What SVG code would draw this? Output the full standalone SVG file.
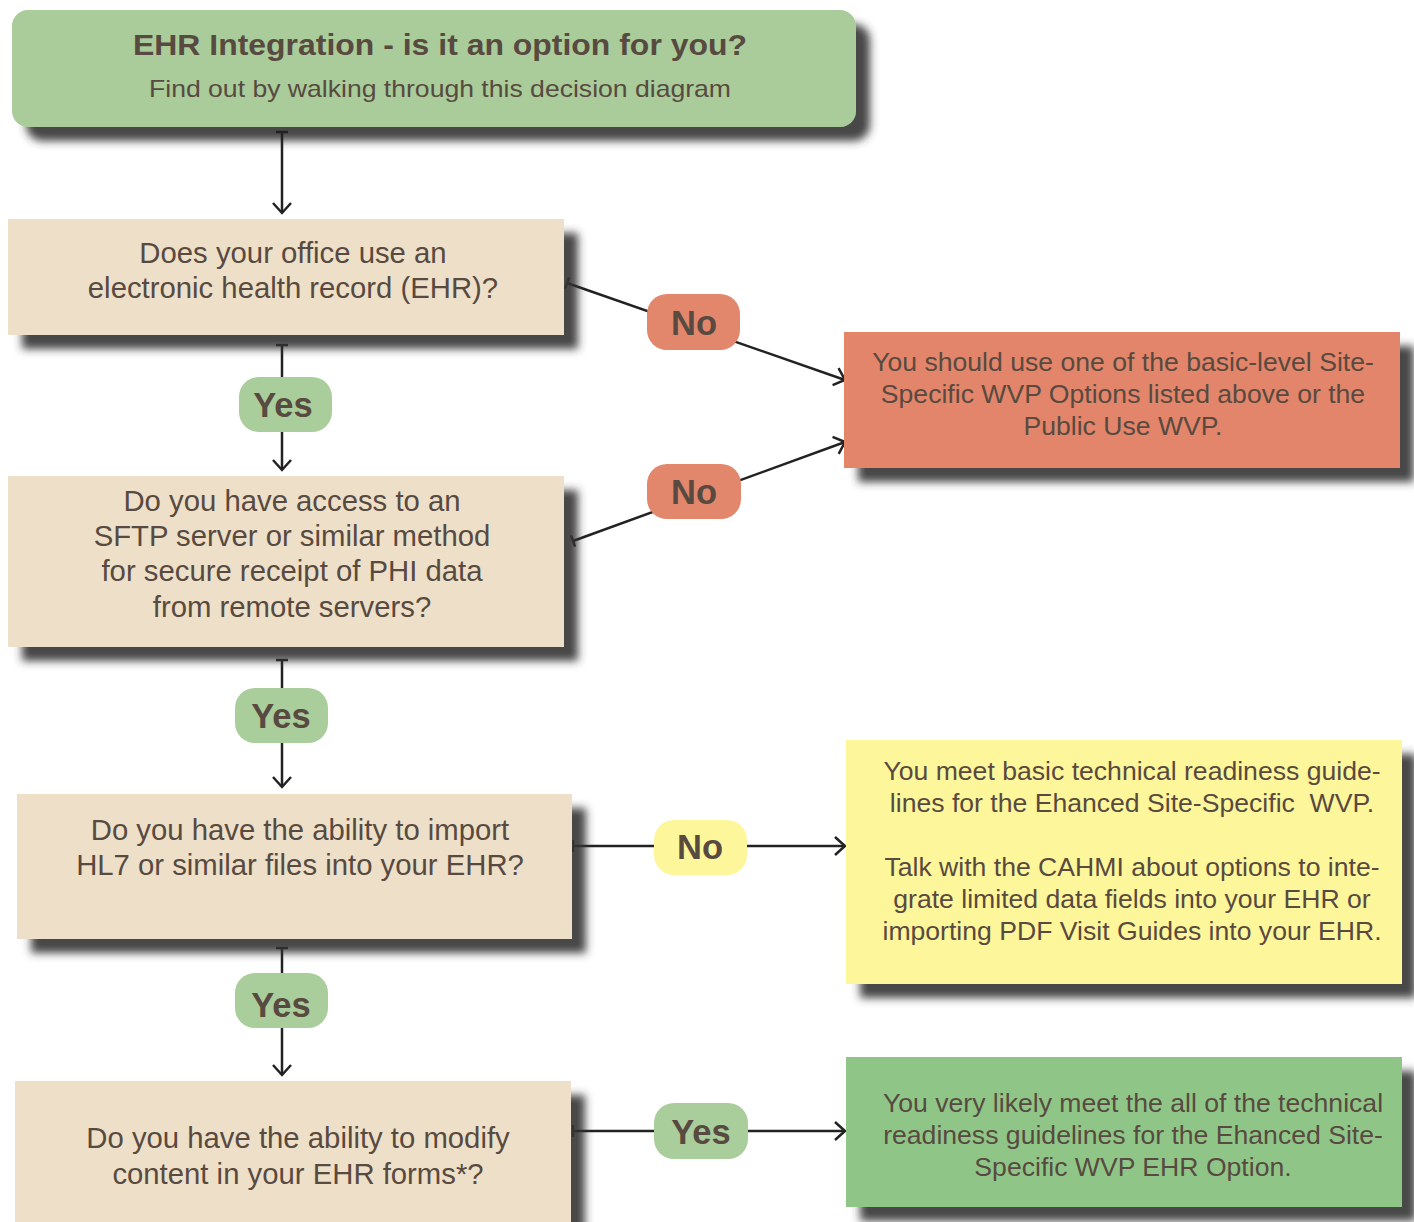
<svg xmlns="http://www.w3.org/2000/svg" width="1414" height="1222" viewBox="0 0 1414 1222">
<style>
.t{font-family:"Liberation Sans",Arial,sans-serif;fill:#584a40;text-anchor:middle}
.q{font-size:29.3px}
.r{font-size:26.6px}
.lb{font-size:34.5px;font-weight:bold}
.conn{stroke:#222;stroke-width:2.5;fill:none}
.beige{fill:#eddfc8}
</style>
<defs>
<filter id="sh" x="-10%" y="-20%" width="130%" height="150%">
<feGaussianBlur in="SourceAlpha" stdDeviation="4" result="b"/>
<feOffset in="b" dx="14" dy="14" result="o"/>
<feFlood flood-color="#333" flood-opacity="0.9"/>
<feComposite in2="o" operator="in" result="s"/>
<feMerge><feMergeNode in="s"/><feMergeNode in="SourceGraphic"/></feMerge>
</filter>
<marker id="arr" markerUnits="userSpaceOnUse" markerWidth="24" markerHeight="24" refX="12" refY="12" orient="auto" viewBox="0 0 24 24">
<path d="M2,3 L12,12 L2,21" fill="none" stroke="#222" stroke-width="2.5"/>
</marker>
<marker id="tee" markerUnits="userSpaceOnUse" markerWidth="16" markerHeight="16" refX="8" refY="8" orient="auto" viewBox="0 0 16 16">
<path d="M8,2 L8,14" fill="none" stroke="#222" stroke-width="2.5"/>
</marker>
</defs>
<rect width="1414" height="1222" fill="#fff"/>

<g id="title">
<rect x="12" y="10" width="844" height="117" rx="16" fill="#a9cc9a" filter="url(#sh)"/>
<text class="t" x="440" y="55" font-size="30" font-weight="bold" textLength="614" lengthAdjust="spacingAndGlyphs">EHR Integration - is it an option for you?</text>
<text class="t" x="440" y="97" font-size="24" textLength="582" lengthAdjust="spacingAndGlyphs">Find out by walking through this decision diagram</text>
</g>

<g id="connectors">
<path class="conn" d="M282,132 L282,213" marker-start="url(#tee)" marker-end="url(#arr)"/>
<path class="conn" d="M282,345 L282,470" marker-start="url(#tee)" marker-end="url(#arr)"/>
<path class="conn" d="M282,660 L282,787" marker-start="url(#tee)" marker-end="url(#arr)"/>
<path class="conn" d="M282,948 L282,1075" marker-start="url(#tee)" marker-end="url(#arr)"/>
<path class="conn" d="M567,283 L845,380" marker-start="url(#tee)" marker-end="url(#arr)"/>
<path class="conn" d="M573,541 L845,442" marker-start="url(#tee)" marker-end="url(#arr)"/>
<path class="conn" d="M573,846 L845,846" marker-start="url(#tee)" marker-end="url(#arr)"/>
<path class="conn" d="M573,1131 L845,1131" marker-start="url(#tee)" marker-end="url(#arr)"/>
</g>

<g id="q1">
<rect class="beige" x="8" y="219" width="556" height="116" filter="url(#sh)"/>
<text class="t q" x="293" y="263">Does your office use an</text>
<text class="t q" x="293" y="298">electronic health record (EHR)?</text>
</g>

<g id="q2">
<rect class="beige" x="8" y="476" width="556" height="171" filter="url(#sh)"/>
<text class="t q" x="292" y="511">Do you have access to an</text>
<text class="t q" x="292" y="546">SFTP server or similar method</text>
<text class="t q" x="292" y="581">for secure receipt of PHI data</text>
<text class="t q" x="292" y="617">from remote servers?</text>
</g>

<g id="q3">
<rect class="beige" x="17" y="794" width="555" height="145" filter="url(#sh)"/>
<text class="t q" x="300" y="840">Do you have the ability to import</text>
<text class="t q" x="300" y="875">HL7 or similar files into your EHR?</text>
</g>

<g id="q4">
<rect class="beige" x="15" y="1081" width="556" height="160" filter="url(#sh)"/>
<text class="t q" x="298" y="1148">Do you have the ability to modify</text>
<text class="t q" x="298" y="1184">content in your EHR forms*?</text>
</g>

<g id="outcome-basic">
<rect x="844" y="332" width="556" height="136" fill="#e2856b" filter="url(#sh)"/>
<text class="t r" x="1123" y="371">You should use one of the basic-level Site-</text>
<text class="t r" x="1123" y="403">Specific WVP Options listed above or the</text>
<text class="t r" x="1123" y="435">Public Use WVP.</text>
</g>

<g id="outcome-limited">
<rect x="846" y="740" width="556" height="244" fill="#fef69a" filter="url(#sh)"/>
<text class="t r" x="1132" y="780">You meet basic technical readiness guide-</text>
<text class="t r" x="1132" y="812" xml:space="preserve">lines for the Ehanced Site-Specific  WVP.</text>
<text class="t r" x="1132" y="876">Talk with the CAHMI about options to inte-</text>
<text class="t r" x="1132" y="908">grate limited data fields into your EHR or</text>
<text class="t r" x="1132" y="940">importing PDF Visit Guides into your EHR.</text>
</g>

<g id="outcome-full">
<rect x="846" y="1057" width="556" height="150" fill="#8fc688" filter="url(#sh)"/>
<text class="t r" x="1133" y="1112">You very likely meet the all of the technical</text>
<text class="t r" x="1133" y="1144">readiness guidelines for the Ehanced Site-</text>
<text class="t r" x="1133" y="1176">Specific WVP EHR Option.</text>
</g>

<g id="label-yes1">
<rect x="239" y="377" width="93" height="55" rx="20" fill="#a9cd9b"/>
<text class="t lb" x="283" y="417">Yes</text>
</g>
<g id="label-yes2">
<rect x="235" y="688" width="93" height="55" rx="20" fill="#a9cd9b"/>
<text class="t lb" x="281" y="728">Yes</text>
</g>
<g id="label-yes3">
<rect x="235" y="973" width="93" height="55" rx="20" fill="#a9cd9b"/>
<text class="t lb" x="281" y="1017">Yes</text>
</g>
<g id="label-no1">
<rect x="647" y="294" width="93" height="56" rx="20" fill="#e2866c"/>
<text class="t lb" x="694" y="335">No</text>
</g>
<g id="label-no2">
<rect x="647" y="464" width="94" height="55" rx="20" fill="#e2866c"/>
<text class="t lb" x="694" y="504">No</text>
</g>
<g id="label-no3">
<rect x="654" y="820" width="93" height="55" rx="20" fill="#fef69a"/>
<text class="t lb" x="700" y="859">No</text>
</g>
<g id="label-yes4">
<rect x="654" y="1103" width="94" height="56" rx="20" fill="#a9cd9b"/>
<text class="t lb" x="701" y="1144">Yes</text>
</g>
</svg>
